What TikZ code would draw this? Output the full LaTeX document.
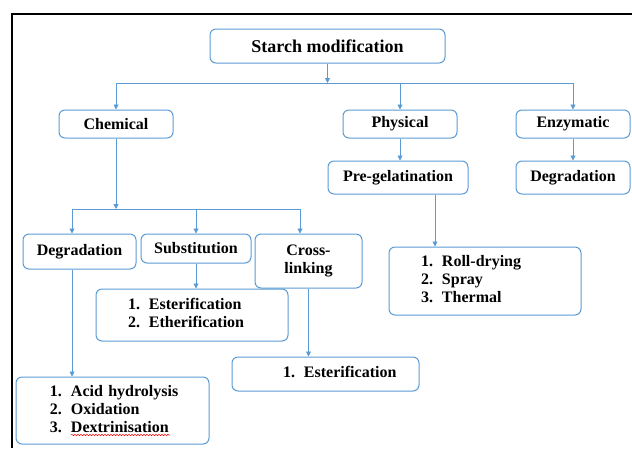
\documentclass[tikz,border=0pt]{standalone}
\usepackage{fontspec}
\setmainfont{Liberation Serif}
\usetikzlibrary{arrows.meta,decorations.pathmorphing}
\definecolor{msblue}{RGB}{91,155,213}

\begin{document}
\begin{tikzpicture}[x=1pt,y=-1pt,
  box/.style={draw=msblue,line width=1pt,rounded corners=6pt,fill=white,inner sep=0pt,
    font=\fontsize{16}{18}\selectfont\bfseries},
  listbox/.style={box,align=left},
  conn/.style={msblue,line width=0.9pt},
  arr/.style={conn,-{Triangle[width=5pt,length=5pt]}}]
  \useasboundingbox (0,0) rectangle (632,448);
  \draw[line width=2pt] (12,448) -- (12,14) -- (632,14);
  % top levels
  \node[box,minimum width=235pt,minimum height=34pt,font=\fontsize{18}{20}\selectfont\bfseries] (top) at (327.5,46) {Starch modification};
  \node[box,minimum width=114pt,minimum height=28pt] (chem) at (116,124) {Chemical};
  \node[box,minimum width=114pt,minimum height=28pt] (phys) at (400,124) {Physical};
  \node[box,minimum width=114pt,minimum height=28pt] (enz) at (573,124) {Enzymatic};
  \node[box,minimum width=140pt,minimum height=33pt] (pregel) at (398,177.5) {Pre-gelatination};
  \node[box,minimum width=114pt,minimum height=33pt] (enzdeg) at (573,177.5) {Degradation};
  % chemical branch
  \node[box,minimum width=113pt,minimum height=35pt] (deg) at (79.5,251.5) {Degradation};
  \node[box,minimum width=110pt,minimum height=29pt] (subst) at (196,248.5) {Substitution};
  \node[box,minimum width=107pt,minimum height=54pt,align=center] (cross) at (308.5,261) {Cross-\\linking};
  % lists
  \node[listbox,text width=193pt,minimum height=67pt] (deglist) at (112.5,410.5)
    {\hspace*{34pt}\begin{tabular}{@{}l@{\hspace{9pt}}l@{}}1.&Acid hydrolysis\\2.&Oxidation\\3.&Dextrinisation\end{tabular}};
  \node[listbox,text width=192pt,minimum height=52pt] (substlist) at (192,315)
    {\hspace*{32pt}\begin{tabular}{@{}l@{\hspace{9pt}}l@{}}1.&Esterification\\2.&Etherification\end{tabular}};
  \node[listbox,text width=187pt,minimum height=34pt] (crosslist) at (325.5,374)
    {\hspace*{51pt}\begin{tabular}{@{}l@{\hspace{9pt}}l@{}}1.&Esterification\end{tabular}};
  \node[listbox,text width=192pt,minimum height=68pt] (pregellist) at (485,281)
    {\hspace*{32pt}\begin{tabular}{@{}l@{\hspace{9pt}}l@{}}1.&Roll-drying\\2.&Spray\\3.&Thermal\end{tabular}};
  % connectors
  \coordinate (bar1) at (324,83);
  \coordinate (b2l) at (72,209);
  \coordinate (b2r) at (300,209);
  \coordinate (pgout) at ([xshift=37pt]pregel.south);
  \draw[arr] (top.south) -- (top.south |- bar1);
  \draw[conn] (chem.north |- bar1) -- (enz.north |- bar1);
  \draw[arr] (chem.north |- bar1) -- (chem.north);
  \draw[arr] (phys.north |- bar1) -- (phys.north);
  \draw[arr] (enz.north |- bar1) -- (enz.north);
  \draw[arr] (phys.south) -- (phys.south |- pregel.north);
  \draw[arr] (enz.south) -- (enzdeg.north);
  \draw[arr] (pgout) -- (pgout |- pregellist.north);
  \draw[arr] (chem.south) -- (chem.south |- b2l);
  \draw[conn] (b2l) -- (b2r);
  \draw[arr] (b2l) -- (b2l |- deg.north);
  \draw[arr] (subst.north |- b2l) -- (subst.north);
  \draw[arr] (b2r) -- (b2r |- cross.north);
  \draw[arr] (subst.south) -- (subst.south |- substlist.north);
  \draw[arr] (cross.south) -- (cross.south |- crosslist.north);
  \draw[arr] (b2l |- deg.south) -- (b2l |- deglist.north);
  % spelling mark
  \coordinate (wv1) at (71,435);
  \coordinate (wv2) at (170,435);
  \draw[red,line width=0.5pt,decorate,decoration={snake,amplitude=0.7pt,segment length=3pt}] (wv1) -- (wv2);
\end{tikzpicture}
\end{document}
